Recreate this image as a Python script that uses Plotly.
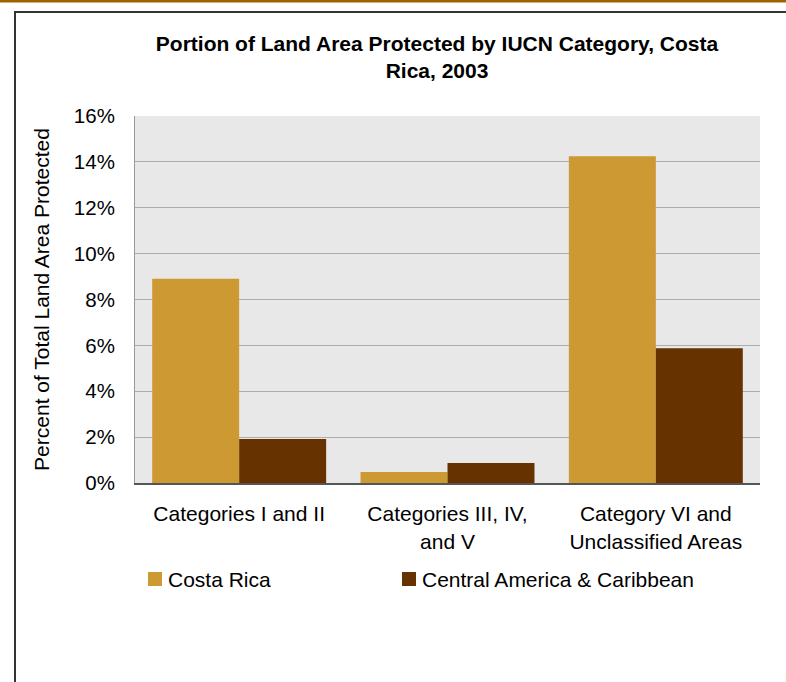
import plotly.graph_objects as go

categories = ["Categories I and II", "Categories III, IV,<br>and V", "Category VI and<br>Unclassified Areas"]
costa_rica = [8.9, 0.48, 14.25]
central_america = [1.92, 0.87, 5.88]
series_names = ["Costa Rica", "Central America & Caribbean"]
series_colors = ["#CC9933", "#663300"]
y_ticks = [0, 2, 4, 6, 8, 10, 12, 14, 16]
y_tick_labels = [f"{v}%" for v in y_ticks]

W, H = 786, 682
L, R, T, B = 135, 26, 116, 199
pw, ph = W - L - R, H - T - B


def px_x(x):
    return (x - L) / pw


def px_y(y):
    return (H - B - y) / ph


font_family = "Liberation Sans, Arial, sans-serif"

fig = go.Figure()
for name, vals, col in zip(series_names, [costa_rica, central_america], series_colors):
    fig.add_trace(go.Bar(x=categories, y=vals, name=name, marker_color=col,
                         marker_line_width=0, showlegend=False))

shapes = [
    dict(type="rect", xref="paper", yref="paper", x0=px_x(-5), x1=px_x(W + 5), y0=px_y(2.5), y1=px_y(-5),
         fillcolor="#9C6500", line_width=0, layer="above"),
    dict(type="line", xref="paper", yref="paper", x0=px_x(15), x1=px_x(15), y0=px_y(11), y1=px_y(H + 10),
         line=dict(color="#333333", width=2)),
    dict(type="line", xref="paper", yref="paper", x0=px_x(14), x1=px_x(W + 10), y0=px_y(12), y1=px_y(12),
         line=dict(color="#333333", width=2)),
]
annotations = []
legend_x = [148, 402]
for lx, name, col in zip(legend_x, series_names, series_colors):
    shapes.append(dict(type="rect", xref="paper", yref="paper", x0=px_x(lx), x1=px_x(lx + 14),
                       y0=px_y(586), y1=px_y(572), fillcolor=col, line_width=0))
    annotations.append(dict(text=name, xref="paper", yref="paper", x=px_x(lx + 18), y=px_y(579),
                            xanchor="left", yanchor="middle", showarrow=False,
                            font=dict(size=21, family=font_family, color="black")))

fig.update_layout(
    width=W, height=H,
    margin=dict(l=L, r=R, t=T, b=B),
    paper_bgcolor="white",
    plot_bgcolor="#E8E8E8",
    barmode="group",
    bargap=0.165,
    bargroupgap=0,
    showlegend=False,
    font=dict(family=font_family, size=21, color="black"),
    title=dict(
        text="<b>Portion of Land Area Protected by IUCN Category, Costa<br>Rica, 2003</b>",
        x=437 / W, xanchor="center", xref="container",
        y=1 - 51 / H, yanchor="middle", yref="container",
        font=dict(size=21, family=font_family, color="black"),
    ),
    xaxis=dict(
        showgrid=False, showline=True, linecolor="#555555", linewidth=2,
        ticks="", tickfont=dict(size=21), fixedrange=True, ticklabelstandoff=11,
    ),
    yaxis=dict(
        range=[0, 16], tickvals=y_ticks, ticktext=y_tick_labels,
        showgrid=True, gridcolor="#ADADAD", gridwidth=1,
        showline=True, linecolor="#999999", linewidth=1,
        zeroline=False, ticks="", ticklen=0, ticklabelstandoff=15,
        tickfont=dict(size=20.5), fixedrange=True,
        title=dict(text="Percent of Total Land Area Protected", font=dict(size=21), standoff=18),
    ),
    shapes=shapes,
    annotations=annotations,
)

fig.write_html("out.html", config={"displayModeBar": False},
               post_script="document.body.style.margin='0px';document.body.style.overflow='hidden';")
